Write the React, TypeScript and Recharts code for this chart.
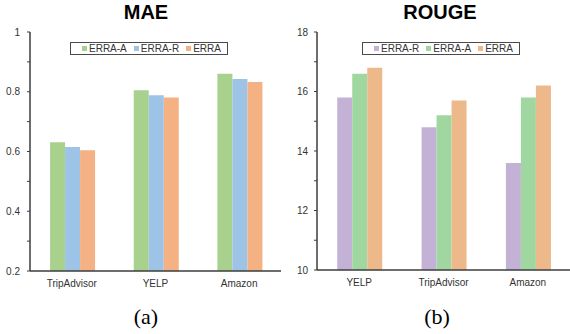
import React from 'react';
import { BarChart, Bar, XAxis, YAxis, Legend } from 'recharts';

const maeCategories = ['TripAdvisor', 'YELP', 'Amazon'];
const maeErraA = [0.631, 0.805, 0.86];
const maeErraR = [0.615, 0.788, 0.843];
const maeErra = [0.604, 0.781, 0.833];
const maeTicks = [0.2, 0.3, 0.4, 0.5, 0.6, 0.7, 0.8, 0.9, 1];
const maeMajor = [0.2, 0.4, 0.6, 0.8, 1];
const maeSeries = ['ERRA-A', 'ERRA-R', 'ERRA'];
const maeColors = ['#a9d18e', '#9dc3e6', '#f4b183'];

const rougeCategories = ['YELP', 'TripAdvisor', 'Amazon'];
const rougeErraR = [15.8, 14.8, 13.6];
const rougeErraA = [16.6, 15.2, 15.8];
const rougeErra = [16.8, 15.7, 16.2];
const rougeTicks = [10, 11, 12, 13, 14, 15, 16, 17, 18];
const rougeMajor = [10, 12, 14, 16, 18];
const rougeSeries = ['ERRA-R', 'ERRA-A', 'ERRA'];
const rougeColors = ['#c3b2d6', '#a0d7a0', '#edb98a'];

const maeData = maeCategories.map((c, i) => ({
  name: c,
  'ERRA-A': maeErraA[i],
  'ERRA-R': maeErraR[i],
  ERRA: maeErra[i],
}));
const rougeData = rougeCategories.map((c, i) => ({
  name: c,
  'ERRA-R': rougeErraR[i],
  'ERRA-A': rougeErraA[i],
  ERRA: rougeErra[i],
}));

const FONT = '"Liberation Sans", Arial, sans-serif';
const AXIS = '#3c3c3c';
const TEXT = '#333333';

const isMajor = (major: number[]) => (v: number) =>
  major.some((m) => Math.abs(m - v) < 1e-9) ? String(v) : '';

const makeLegend = (names: string[], colors: string[]) => () => (
  <div
    style={{
      display: 'flex',
      alignItems: 'center',
      boxSizing: 'border-box',
      width: 158,
      height: 13,
      border: '1.5px solid #4a4a4a',
      paddingLeft: 11,
      fontFamily: FONT,
      fontSize: 10,
      color: TEXT,
      background: '#fff',
      lineHeight: '10px',
      whiteSpace: 'nowrap',
    }}
  >
    {names.map((n, i) => (
      <div key={n} style={{ display: 'flex', alignItems: 'center', marginRight: 7 }}>
        <span style={{ display: 'inline-block', width: 5, height: 5, background: colors[i], marginRight: 2 }} />
        <span>{n}</span>
      </div>
    ))}
  </div>
);

const tickStyle = { fontSize: 10, fontFamily: FONT, fill: TEXT };

export default function App() {
  return (
    <div style={{ position: 'absolute', left: 0, top: 0, width: 570, height: 334, background: '#fff', overflow: 'hidden' }}>
      <div style={{ position: 'absolute', left: 0, top: 0 }}>
        <BarChart
          width={285}
          height={334}
          data={maeData}
          margin={{ top: 32, right: 4, left: 0, bottom: 43 }}
          barCategoryGap="24%"
          barGap={0}
        >
          <XAxis
            dataKey="name"
            tick={tickStyle}
            tickLine={false}
            tickMargin={3}
            height={20}
            axisLine={{ stroke: AXIS, strokeWidth: 1.5 }}
            interval={0}
          />
          <XAxis xAxisId="top" orientation="top" dataKey="name" tick={false} tickLine={false} height={0} axisLine={{ stroke: AXIS, strokeWidth: 1.5 }} />
          <YAxis
            domain={[0.2, 1]}
            ticks={maeTicks}
            tickFormatter={isMajor(maeMajor)}
            tick={tickStyle}
            tickSize={3}
            tickMargin={7}
            width={30}
            interval={0}
            axisLine={{ stroke: AXIS, strokeWidth: 1.5 }}
            tickLine={{ stroke: AXIS }}
            allowDataOverflow
          />
          <YAxis yAxisId="right" orientation="right" domain={[0.2, 1]} tick={false} tickLine={false} width={0} axisLine={{ stroke: AXIS, strokeWidth: 1.5 }} />
          <Legend
            layout="horizontal"
            verticalAlign="middle"
            align="center"
            content={makeLegend(maeSeries, maeColors)}
            wrapperStyle={{ position: 'absolute', left: 70, top: 42, width: 158, height: 13 }}
          />
          {maeSeries.map((s, i) => (
            <Bar key={s} dataKey={s} fill={maeColors[i]} isAnimationActive={false} />
          ))}
        </BarChart>
      </div>
      <div style={{ position: 'absolute', left: 285, top: 0 }}>
        <BarChart
          width={285}
          height={334}
          data={rougeData}
          margin={{ top: 32, right: 0, left: 0, bottom: 44 }}
          barCategoryGap="24%"
          barGap={0}
        >
          <XAxis
            dataKey="name"
            tick={tickStyle}
            tickLine={false}
            tickMargin={3}
            height={20}
            axisLine={{ stroke: AXIS, strokeWidth: 1.5 }}
            interval={0}
          />
          <XAxis xAxisId="top" orientation="top" dataKey="name" tick={false} tickLine={false} height={0} axisLine={{ stroke: AXIS, strokeWidth: 1.5 }} />
          <YAxis
            domain={[10, 18]}
            ticks={rougeTicks}
            tickFormatter={isMajor(rougeMajor)}
            tick={tickStyle}
            tickSize={3}
            tickMargin={6}
            width={32}
            interval={0}
            axisLine={{ stroke: AXIS, strokeWidth: 1.5 }}
            tickLine={{ stroke: AXIS }}
            allowDataOverflow
          />
          <Legend
            layout="horizontal"
            verticalAlign="middle"
            align="center"
            content={makeLegend(rougeSeries, rougeColors)}
            wrapperStyle={{ position: 'absolute', left: 77, top: 42, width: 158, height: 13 }}
          />
          {rougeSeries.map((s, i) => (
            <Bar key={s} dataKey={s} fill={rougeColors[i]} isAnimationActive={false} />
          ))}
        </BarChart>
      </div>
      <div style={{ position: 'absolute', left: 46, width: 200, top: 0, height: 24, lineHeight: '24px', textAlign: 'center', fontFamily: FONT, fontWeight: 'bold', fontSize: 20, color: '#000' }}>MAE</div>
      <div style={{ position: 'absolute', left: 340, width: 200, top: 0, height: 24, lineHeight: '24px', textAlign: 'center', fontFamily: FONT, fontWeight: 'bold', fontSize: 20, color: '#000' }}>ROUGE</div>
      <div style={{ position: 'absolute', left: 46, width: 200, top: 304, height: 26, lineHeight: '26px', textAlign: 'center', fontFamily: '"Liberation Serif", "Times New Roman", serif', fontSize: 22, color: '#000' }}>(a)</div>
      <div style={{ position: 'absolute', left: 337, width: 200, top: 304, height: 26, lineHeight: '26px', textAlign: 'center', fontFamily: '"Liberation Serif", "Times New Roman", serif', fontSize: 22, color: '#000' }}>(b)</div>
    </div>
  );
}
